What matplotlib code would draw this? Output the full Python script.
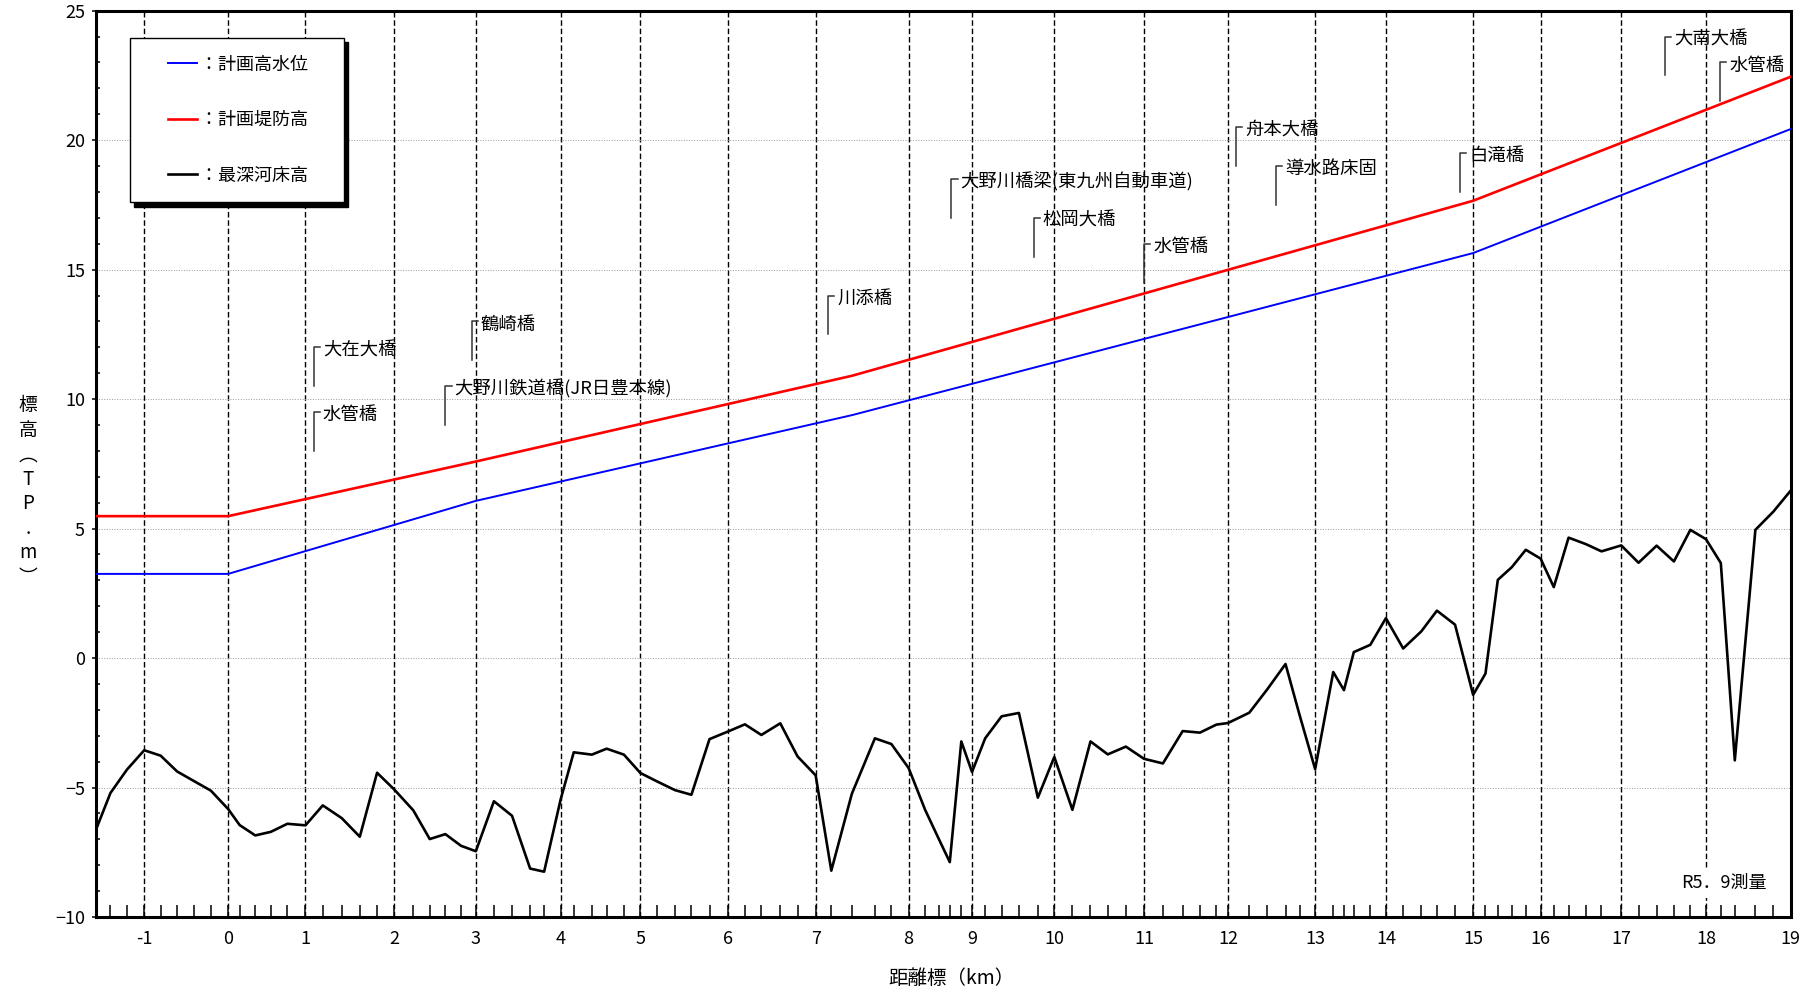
import numpy as np
import matplotlib.pyplot as plt
from matplotlib.legend_handler import HandlerLine2D

plt.rcParams['font.family'] = ['Noto Sans CJK JP', 'DejaVu Sans']

# distance along the river (km) of each 200 m post, from post -1.6 to post 19.0
post_dist = [-1.64, -1.43, -1.23, -1.02, -0.82, -0.62, -0.41, -0.21,
             0.00, 0.14, 0.33, 0.52, 0.72, 0.94, 1.15, 1.38, 1.60, 1.81,
             2.02, 2.25, 2.45, 2.64, 2.83, 3.01, 3.23, 3.45, 3.67, 3.84,
             4.04, 4.20, 4.42, 4.60, 4.81, 5.01, 5.21, 5.43, 5.63, 5.85,
             6.08, 6.28, 6.48, 6.71, 6.92, 7.14, 7.33, 7.58, 7.86, 8.06,
             8.27, 8.47, 8.64, 8.77, 8.91, 9.04, 9.20, 9.40, 9.61, 9.84,
             10.04, 10.26, 10.48, 10.69, 10.91, 11.13, 11.36, 11.60, 11.81, 12.01,
             12.15, 12.41, 12.63, 12.85, 13.02, 13.21, 13.43, 13.56, 13.68, 13.88,
             14.07, 14.28, 14.50, 14.69, 14.91, 15.13, 15.28, 15.43, 15.60, 15.77,
             15.95, 16.11, 16.29, 16.50, 16.69, 16.93, 17.14, 17.36, 17.57, 17.77,
             17.96, 18.14, 18.31, 18.56, 18.78, 18.99]
post_km = np.round(np.arange(len(post_dist)) * 0.2 - 1.6, 1)

# 最深河床高 (T.P. m) at each post
bed_level = [-6.9, -5.21, -4.31, -3.56, -3.77, -4.38, -4.76, -5.12,
             -5.83, -6.45, -6.85, -6.71, -6.40, -6.46, -5.69, -6.18, -6.90, -4.43,
             -5.08, -5.88, -6.99, -6.80, -7.25, -7.46, -5.53, -6.09, -8.13, -8.25,
             -5.47, -3.64, -3.73, -3.50, -3.73, -4.44, -4.76, -5.10, -5.28, -3.13,
             -2.83, -2.56, -2.97, -2.52, -3.80, -4.53, -8.21, -5.24, -3.10, -3.32,
             -4.25, -5.86, -7.01, -7.88, -3.22, -4.40, -3.10, -2.25, -2.12, -5.39,
             -3.82, -5.86, -3.22, -3.72, -3.42, -3.89, -4.07, -2.82, -2.88, -2.57,
             -2.51, -2.11, -1.20, -0.23, -2.19, -4.29, -0.54, -1.24, 0.23, 0.51,
             1.54, 0.37, 1.03, 1.83, 1.29, -1.42, -0.60, 3.02, 3.51, 4.18,
             3.84, 2.74, 4.65, 4.40, 4.12, 4.35, 3.68, 4.34, 3.73, 4.95,
             4.59, 3.67, -3.95, 4.95, 5.66, 6.47]

# planned levels, break points given by post number
plan_km = [-1.6, 0.0, 3.0, 7.4, 15.0, 19.0]
hwl = [3.25, 3.25, 6.07, 9.38, 15.64, 20.43]
levee = [5.48, 5.48, 7.59, 10.90, 17.66, 22.45]

bridges = ['大在大橋', '水管橋', '鶴崎橋', '大野川鉄道橋(JR日豊本線)', '川添橋',
           '大野川橋梁(東九州自動車道)', '松岡大橋', '水管橋', '舟本大橋', '導水路床固',
           '白滝橋', '大南大橋', '水管橋']
bridge_dist = [1.04, 1.04, 2.96, 2.64, 7.29, 8.79, 9.79, 11.13, 12.25, 12.73,
               14.97, 17.46, 18.13]
bridge_top = [12.0, 9.5, 13.0, 10.5, 14.0, 18.5, 17.0, 16.0, 20.5, 19.0,
              19.5, 24.0, 23.0]

fig = plt.figure(figsize=(18.16, 9.89), dpi=100)
ax = fig.add_axes([0.0529, 0.0728, 0.9332, 0.9164])

post_dist = np.array(post_dist)
plan_dist = np.interp(plan_km, post_km, post_dist)
ax.plot(plan_dist, hwl, color='#0000ff', lw=1.4, label='：計画高水位　', zorder=4)
ax.plot(plan_dist, levee, color='#ff0000', lw=1.9, label='：計画堤防高　', zorder=4)
ax.plot(post_dist, bed_level, color='black', lw=1.9, label='：最深河床高　', zorder=4)

for name, x, top in zip(bridges, bridge_dist, bridge_top):
    ax.plot([x, x, x + 0.075], [top - 1.5, top, top], color='#333333', lw=1.1, zorder=3)
    ax.text(x + 0.11, top - 0.12, name, va='center', ha='left', fontsize=13.2, zorder=3)

major = np.isclose(post_km, np.round(post_km))
ax.set_xticks(post_dist[major], [str(int(k)) for k in np.round(post_km[major])])
ax.set_xticks(post_dist, minor=True)
ax.set_xlim(-1.605, 18.99)
ax.set_ylim(-10, 25)
ax.set_yticks(range(-10, 26, 5))
ax.set_yticks(range(-10, 26), minor=True)

ax.tick_params(axis='x', which='both', direction='in', length=8.5, width=1.1,
               pad=9, labelsize=13)
ax.tick_params(axis='y', which='major', direction='out', length=3, width=1.1,
               pad=5, labelsize=13)
ax.tick_params(axis='y', which='minor', direction='in', length=3, width=1.1)

ax.set_axisbelow(True)
ax.grid(axis='x', which='major', color='black', linestyle=(0, (4, 2)), lw=1.0)
ax.grid(axis='y', which='major', color='#999999', linestyle=':', lw=0.7)
for sp in ax.spines.values():
    sp.set_linewidth(2.2)

ax.set_xlabel('距離標（km）', fontsize=14, labelpad=14)
ax.xaxis.set_label_coords(0.505, -0.056)
fig.text(0.0154, 0.503, '標\n高\n︵\nT\nP\n.\nm\n︶', ha='center', va='center',
         multialignment='center', linespacing=1.22, fontsize=13.5)

ax.text(0.986, 0.0375, 'R5．9測量', transform=ax.transAxes, ha='right', va='center',
        fontsize=13, zorder=3,
        bbox=dict(facecolor='white', edgecolor='none', pad=4))

ax.legend(loc='upper left', bbox_to_anchor=(0.0201, 0.970), borderaxespad=0,
          fancybox=False, edgecolor='black', framealpha=1,
          shadow={'color': 'black', 'alpha': 1, 'ox': 3, 'oy': -3},
          fontsize=13, handlelength=2.7, handletextpad=0.2,
          labelspacing=2.08, borderpad=0.98,
          handler_map={plt.Line2D: HandlerLine2D(xpad=1.1)})

fig.savefig('out.png', dpi=100)
